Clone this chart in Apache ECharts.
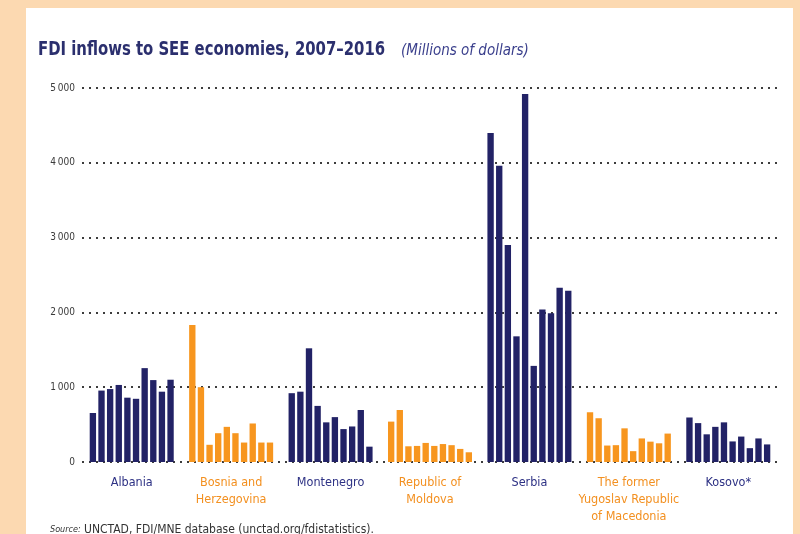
<!DOCTYPE html>
<html>
<head>
<meta charset="utf-8">
<script src="https://cdn.jsdelivr.net/npm/echarts@6/dist/echarts.min.js"></script>
<style>
  html, body { margin: 0; padding: 0; background: #fcd9b1; }
  #chart { width: 800px; height: 534px; }
</style>
</head>
<body>
<div id="chart"></div>
<script>
// FDI inflows to South-East European economies, 2007–2016 (millions of US dollars)
var years = ['2007', '2008', '2009', '2010', '2011', '2012', '2013', '2014', '2015', '2016'];
var economies = [
  'Albania',
  'Bosnia and\nHerzegovina',
  'Montenegro',
  'Republic of\nMoldova',
  'Serbia',
  'The former\nYugoslav Republic\nof Macedonia',
  'Kosovo*'
];
var albania    = [655, 955, 975, 1030, 860, 845, 1255, 1095, 940, 1100];
var bosnia     = [1830, 1000, 230, 385, 470, 385, 260, 515, 260, 260];
var montenegro = [920, 940, 1520, 750, 530, 600, 440, 475, 695, 205];
var moldova    = [540, 695, 210, 215, 255, 215, 240, 225, 175, 130];
var serbia     = [4400, 3960, 2900, 1680, 4920, 1285, 2040, 1990, 2330, 2290];
var macedonia  = [665, 585, 220, 225, 450, 145, 315, 272, 250, 380];
var kosovo     = [595, 520, 370, 470, 530, 275, 340, 185, 315, 235];
var yTicks     = [0, 1000, 2000, 3000, 4000, 5000];

var values = [albania, bosnia, montenegro, moldova, serbia, macedonia, kosovo];
var NAVY = '#222266';
var ORANGE = '#f7961f';
var barColors = [NAVY, ORANGE, NAVY, ORANGE, NAVY, ORANGE, NAVY];
var labelColors = ['#2d3184', '#f39020', '#2d3184', '#f39020', '#2d3184', '#f39020', '#2d3184'];

var FONT = '"Liberation Sans Narrow", "DejaVu Sans Condensed", "Roboto", sans-serif';

var series = years.map(function (yr, yi) {
  return {
    name: yr,
    type: 'bar',
    barGap: '36%',
    barCategoryGap: '15.5%',
    data: values.map(function (arr, ci) {
      return { value: arr[yi], itemStyle: { color: barColors[ci] } };
    })
  };
});

var chart = echarts.init(document.getElementById('chart'), null, { renderer: 'canvas' });
chart.setOption({
  backgroundColor: '#fcd9b1',
  animation: false,
  graphic: [
    { type: 'rect', z: -10, shape: { x: 26, y: 8, width: 767, height: 540 }, style: { fill: '#ffffff' } },
    {
      type: 'text', x: 38, y: 41, scaleX: 0.87,
      style: { text: 'FDI inflows to SEE economies, 2007–2016', font: 'bold 19px ' + FONT, fill: '#2b2f6e' }
    },
    {
      type: 'text', x: 401, y: 44, scaleX: 1.0,
      style: { text: '(Millions of dollars)', font: 'italic 15px ' + FONT, fill: '#3a3f8c' }
    },
    {
      type: 'text', x: 50, y: 524,
      style: {
        rich: {
          s: { font: 'italic 9px ' + FONT, fill: '#333333' },
          t: { font: '12px ' + FONT, fill: '#333333' }
        },
        text: '{s|Source:} {t|UNCTAD, FDI/MNE database (unctad.org/fdistatistics).}'
      }
    }
  ],
  grid: { left: 82, top: 88, width: 696, height: 374, containLabel: false },
  xAxis: {
    type: 'category',
    data: economies,
    axisLine: { show: false },
    axisTick: { show: false },
    axisLabel: {
      margin: 12,
      interval: 0,
      fontFamily: FONT,
      fontSize: 12.5,
      lineHeight: 17,
      color: function (v, i) { return labelColors[i]; }
    }
  },
  yAxis: {
    type: 'value',
    min: yTicks[0],
    max: yTicks[yTicks.length - 1],
    interval: 1000,
    axisLine: { show: false },
    axisTick: { show: false },
    axisLabel: {
      margin: 7,
      fontFamily: FONT,
      fontSize: 10,
      color: '#3a3a3a',
      formatter: function (v) { return v >= 1000 ? Math.floor(v / 1000) + '\u2009000' : String(v); }
    },
    splitLine: {
      lineStyle: { type: [2, 5], width: 2, color: '#3c3c3c' }
    }
  },
  series: series
});
</script>
</body>
</html>
